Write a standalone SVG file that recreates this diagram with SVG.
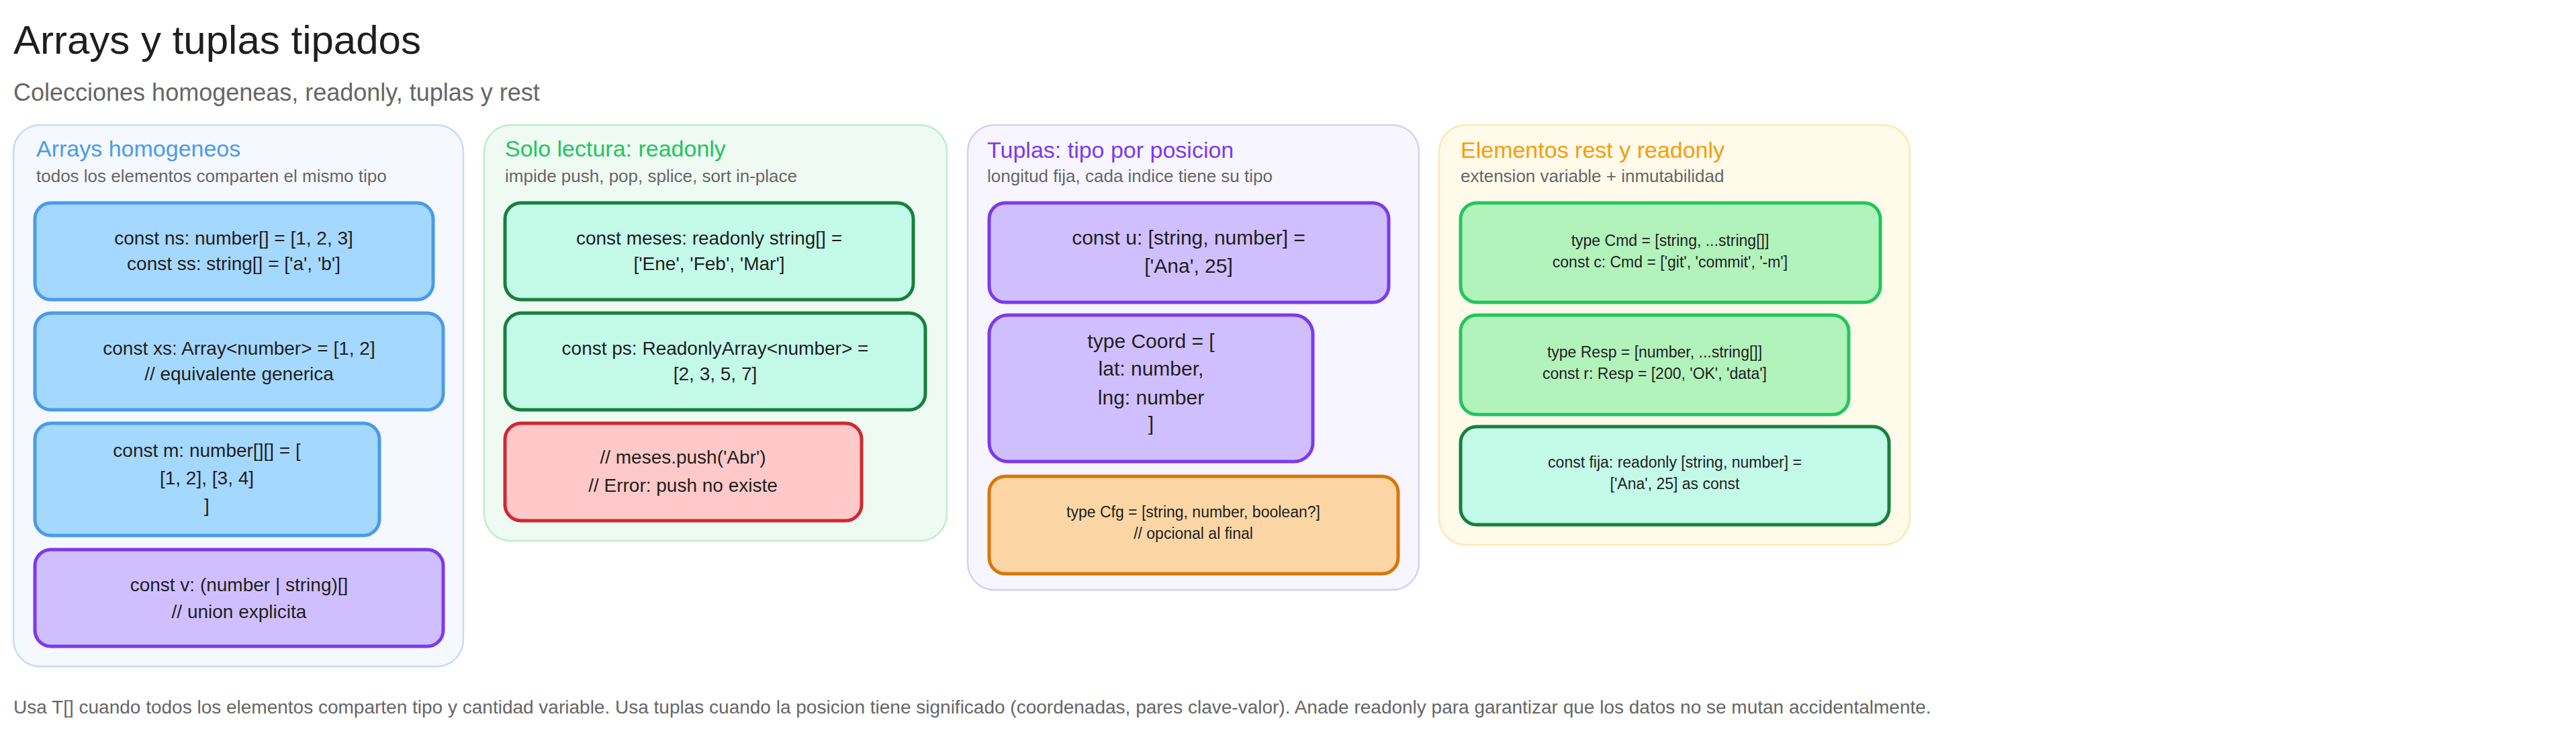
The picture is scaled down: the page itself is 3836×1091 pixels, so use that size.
<svg xmlns="http://www.w3.org/2000/svg" width="3836" height="1091" viewBox="0 0 3836 1091">
<style>
text{font-family:"Liberation Sans",Arial,sans-serif;}
.h1{font-size:60px;fill:#1e1e1e}
.sub{font-size:36px;fill:#666}
.pt{font-size:34px}
.ps{font-size:26px;fill:#666}
.t{font-size:28px;fill:#1e1e1e;text-anchor:middle}
.s{font-size:23px;fill:#1e1e1e;text-anchor:middle}
.panel{stroke-width:2.5}
.node{stroke-width:5}
.blue{fill:#a5d8ff;stroke:#4a9be8}
.dg{fill:#c3fae8;stroke:#17803d}
.red{fill:#ffc9c9;stroke:#d0282e}
.pur{fill:#d0bfff;stroke:#7c3aed}
.org{fill:#fcd7a5;stroke:#d9760a}
.lg{fill:#b2f2bb;stroke:#22c55e}
</style>
<text class="h1" x="20" y="80">Arrays y tuplas tipados</text>
<text class="sub" x="20" y="150">Colecciones homogeneas, readonly, tuplas y rest</text>

<g id="panel1">
<rect class="panel" x="20" y="186" width="670" height="806" rx="40" fill="#f5f8ff" stroke="#c5dcf8"/>
<text class="pt" x="54" y="233" fill="#4a9be8">Arrays homogeneos</text>
<text class="ps" x="54" y="271">todos los elementos comparten el mismo tipo</text>
</g>
<g id="ns"><rect class="node blue" x="52" y="302" width="593" height="144" rx="24"/>
<text class="t" x="348" y="364">const ns: number[] = [1, 2, 3]</text><text class="t" x="348" y="402">const ss: string[] = ['a', 'b']</text></g>
<g id="xs"><rect class="node blue" x="52" y="466" width="608" height="144" rx="24"/>
<text class="t" x="356" y="528">const xs: Array&lt;number&gt; = [1, 2]</text><text class="t" x="356" y="566">// equivalente generica</text></g>
<g id="m"><rect class="node blue" x="52" y="630" width="513" height="167" rx="24"/>
<text class="t" x="308" y="680">const m: number[][] = [</text><text class="t" x="308" y="721">[1, 2], [3, 4]</text><text class="t" x="308" y="762">]</text></g>
<g id="v"><rect class="node pur" x="52" y="818" width="608" height="144" rx="24"/>
<text class="t" x="356" y="880">const v: (number | string)[]</text><text class="t" x="356" y="920">// union explicita</text></g>

<g id="panel2">
<rect class="panel" x="721" y="186" width="689" height="619" rx="40" fill="#effaf3" stroke="#c0ecd0"/>
<text class="pt" x="752" y="233" fill="#22c55e">Solo lectura: readonly</text>
<text class="ps" x="752" y="271">impide push, pop, splice, sort in-place</text>
</g>
<g id="meses"><rect class="node dg" x="752" y="302" width="608" height="144" rx="24"/>
<text class="t" x="1056" y="364">const meses: readonly string[] =</text><text class="t" x="1056" y="402">['Ene', 'Feb', 'Mar']</text></g>
<g id="psnode"><rect class="node dg" x="752" y="466" width="626" height="144" rx="24"/>
<text class="t" x="1065" y="528">const ps: ReadonlyArray&lt;number&gt; =</text><text class="t" x="1065" y="566">[2, 3, 5, 7]</text></g>
<g id="err"><rect class="node red" x="752" y="630" width="531" height="145" rx="24"/>
<text class="t" x="1017" y="690">// meses.push('Abr')</text><text class="t" x="1017" y="732">// Error: push no existe</text></g>

<g id="panel3">
<rect class="panel" x="1441" y="186" width="672" height="692" rx="40" fill="#f7f5ff" stroke="#d9cdf7"/>
<text class="pt" x="1470" y="235" fill="#7c3aed">Tuplas: tipo por posicion</text>
<text class="ps" x="1470" y="271">longitud fija, cada indice tiene su tipo</text>
</g>
<g id="u"><rect class="node pur" x="1473" y="302" width="595" height="148" rx="24"/>
<text class="t" style="font-size:30px" x="1770" y="364">const u: [string, number] =</text><text class="t" style="font-size:30px" x="1770" y="406">['Ana', 25]</text></g>
<g id="coord"><rect class="node pur" x="1473" y="469" width="482" height="218" rx="28"/>
<text class="t" style="font-size:30px" x="1714" y="518">type Coord = [</text><text class="t" style="font-size:30px" x="1714" y="559">lat: number,</text><text class="t" style="font-size:30px" x="1714" y="602">lng: number</text><text class="t" style="font-size:30px" x="1714" y="641">]</text></g>
<g id="cfg"><rect class="node org" x="1473" y="709" width="609" height="145" rx="24"/>
<text class="s" x="1777" y="770">type Cfg = [string, number, boolean?]</text><text class="s" x="1777" y="802">// opcional al final</text></g>

<g id="panel4">
<rect class="panel" x="2143" y="186" width="701" height="625" rx="40" fill="#fffaea" stroke="#fde8b3"/>
<text class="pt" x="2175" y="235" fill="#f59e0b">Elementos rest y readonly</text>
<text class="ps" x="2175" y="271">extension variable + inmutabilidad</text>
</g>
<g id="cmd"><rect class="node lg" x="2175" y="302" width="625" height="148" rx="24"/>
<text class="s" x="2487" y="366">type Cmd = [string, ...string[]]</text><text class="s" x="2487" y="398">const c: Cmd = ['git', 'commit', '-m']</text></g>
<g id="resp"><rect class="node lg" x="2175" y="469" width="578" height="148" rx="24"/>
<text class="s" x="2464" y="532">type Resp = [number, ...string[]]</text><text class="s" x="2464" y="564">const r: Resp = [200, 'OK', 'data']</text></g>
<g id="fija"><rect class="node dg" x="2175" y="635" width="638" height="146" rx="24"/>
<text class="s" x="2494" y="696">const fija: readonly [string, number] =</text><text class="s" x="2494" y="728">['Ana', 25] as const</text></g>

<g id="connectors"></g>
<text x="20" y="1062" style="font-size:28px;fill:#666">Usa T[] cuando todos los elementos comparten tipo y cantidad variable. Usa tuplas cuando la posicion tiene significado (coordenadas, pares clave-valor). Anade readonly para garantizar que los datos no se mutan accidentalmente.</text>
</svg>
